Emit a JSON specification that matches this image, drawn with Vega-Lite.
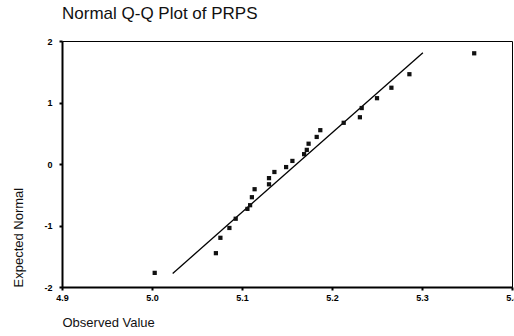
{
  "$schema": "https://vega.github.io/schema/vega-lite/v6.json",
  "autosize": {"type": "none"},
  "width": 450,
  "height": 246,
  "padding": {"left": 62, "top": 41, "right": 2, "bottom": 49},
  "background": "white",
  "title": {
    "text": "Normal Q-Q Plot of PRPS",
    "anchor": "start",
    "frame": "group",
    "offset": 14,
    "font": "Liberation Sans",
    "fontSize": 17,
    "fontWeight": "normal",
    "color": "#111"
  },
  "config": {
    "view": {"stroke": "#000", "strokeWidth": 1},
    "axis": {
      "grid": false,
      "domainColor": "#000",
      "domainWidth": 2,
      "tickColor": "#000",
      "tickSize": 3,
      "tickWidth": 2,
      "labelFont": "Liberation Sans",
      "labelFontSize": 9,
      "labelFontWeight": "bold",
      "labelColor": "#000",
      "titleFont": "Liberation Sans",
      "titleFontSize": 13,
      "titleFontWeight": "normal",
      "titleColor": "#111"
    }
  },
  "layer": [
    {
      "data": {"values": [
        {"obs": 5.023, "exp": -1.78},
        {"obs": 5.301, "exp": 1.81}
      ]},
      "mark": {"type": "line", "color": "#000", "strokeWidth": 1.3},
      "encoding": {
        "x": {
          "field": "obs", "type": "quantitative",
          "scale": {"domain": [4.9, 5.4], "nice": false, "zero": false},
          "axis": {"values": [4.9, 5.0, 5.1, 5.2, 5.3, 5.4], "format": ".1f", "title": "Observed Value", "titleAnchor": "start", "titleAlign": "left", "titlePadding": 14, "labelPadding": 3, "labelFlush": false}
        },
        "y": {
          "field": "exp", "type": "quantitative",
          "scale": {"domain": [-2, 2], "nice": false, "zero": false},
          "axis": {"values": [-2, -1, 0, 1, 2], "format": "d", "labelExpr": "replace(datum.label, '\u2212', '-')", "title": "Expected Normal", "titleAnchor": "start", "titlePadding": 18, "labelPadding": 7}
        }
      }
    },
    {
      "data": {"values": [
        {"obs": 5.003, "exp": -1.77},
        {"obs": 5.071, "exp": -1.45},
        {"obs": 5.076, "exp": -1.20},
        {"obs": 5.086, "exp": -1.04},
        {"obs": 5.093, "exp": -0.89},
        {"obs": 5.106, "exp": -0.73},
        {"obs": 5.109, "exp": -0.67},
        {"obs": 5.111, "exp": -0.54},
        {"obs": 5.114, "exp": -0.41},
        {"obs": 5.130, "exp": -0.33},
        {"obs": 5.130, "exp": -0.23},
        {"obs": 5.136, "exp": -0.13},
        {"obs": 5.149, "exp": -0.05},
        {"obs": 5.156, "exp": 0.05},
        {"obs": 5.169, "exp": 0.16},
        {"obs": 5.172, "exp": 0.23},
        {"obs": 5.174, "exp": 0.33},
        {"obs": 5.183, "exp": 0.44},
        {"obs": 5.187, "exp": 0.55},
        {"obs": 5.213, "exp": 0.67},
        {"obs": 5.231, "exp": 0.76},
        {"obs": 5.233, "exp": 0.91},
        {"obs": 5.250, "exp": 1.07},
        {"obs": 5.266, "exp": 1.24},
        {"obs": 5.286, "exp": 1.46},
        {"obs": 5.358, "exp": 1.80}
      ]},
      "mark": {"type": "point", "shape": "square", "filled": true, "color": "#111", "opacity": 1, "size": 18},
      "encoding": {
        "x": {"field": "obs", "type": "quantitative"},
        "y": {"field": "exp", "type": "quantitative"}
      }
    }
  ]
}
